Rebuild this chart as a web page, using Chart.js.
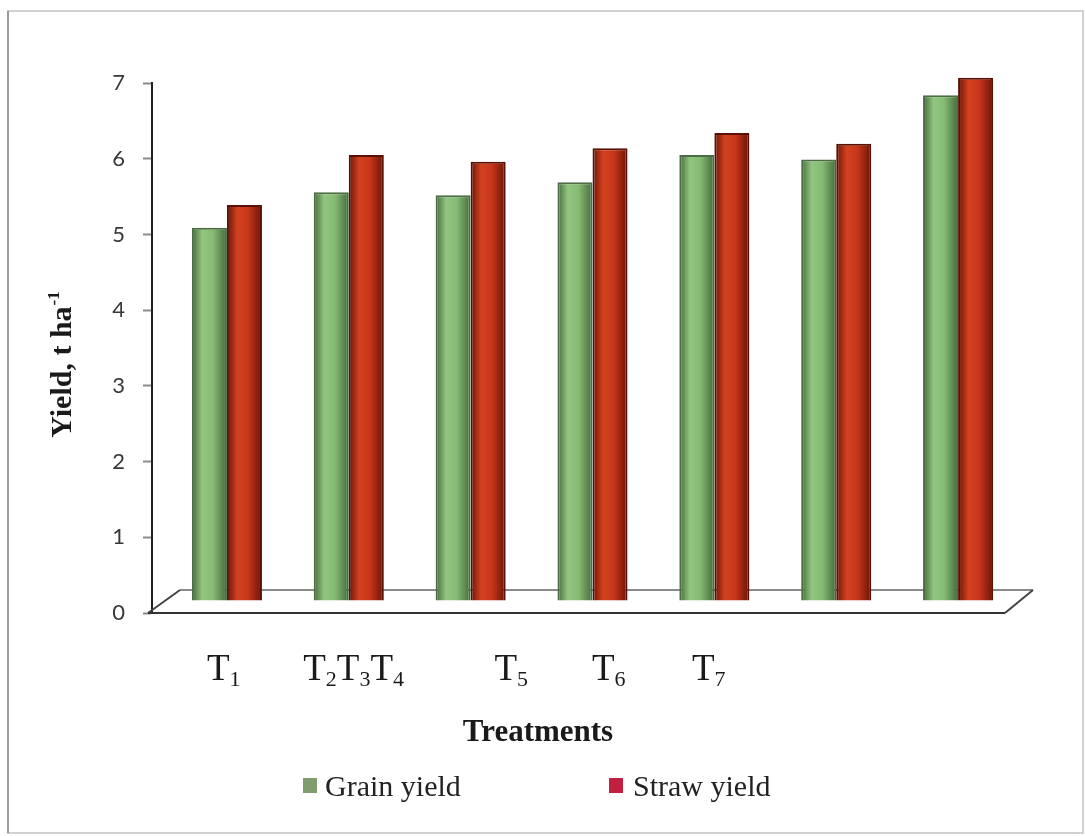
<!DOCTYPE html>
<html>
<head>
<meta charset="utf-8">
<script src="https://cdn.jsdelivr.net/npm/chart.js@4/dist/chart.umd.min.js"></script>
<style>
  html, body { margin: 0; padding: 0; background: #fff; }
  #wrap { width: 1085px; height: 836px; }
</style>
</head>
<body>
<div id="wrap"><canvas id="yieldChart" width="1085" height="836"></canvas></div>
<script>
/* DATA */
const categories = ["T1", "T2", "T3", "T4", "T5", "T6", "T7"];
const grainYield = [4.93, 5.4, 5.36, 5.53, 5.89, 5.83, 6.68];
const strawYield = [5.23, 5.89, 5.8, 5.98, 6.18, 6.04, 6.91];
const yMax = 7;
// treatment labels as printed under the axis (they sit loosely, not on each group)
const axisLabels = ["T1", "T2T3T4", "T5", "T6", "T7"];
const axisLabelPos = [-0.05, 0.74, 2.31, 3.11, 3.93];

/* STYLE */
const SERIF = "'Liberation Serif', 'Times New Roman', serif";
const DEPTH = { dx: 28, dy: -23 }; // floor depth of the 3D look
const BAR_SHIFT = { dx: 14, dy: -12 }; // bars sit mid-depth
const CAT_PCT = 0.575;

const palette = [
  { edge: "#456a3c", mid: "#86bb74", light: "#92c680", line: "#4c6c44" },
  { edge: "#6a1406", mid: "#c8361a", light: "#d2421f", line: "#5a1004" },
];

function barFill(c) {
  const p = palette[c.datasetIndex];
  const xs = c.chart.scales && c.chart.scales.x;
  if (c.type !== "data" || !xs || !xs.width) return p.mid;
  const catW = xs.width / categories.length;
  const barW = (catW * CAT_PCT) / 2;
  const cx = xs.getPixelForValue(c.dataIndex) + (c.datasetIndex - 0.5) * barW;
  if (!isFinite(cx) || !isFinite(barW)) return p.mid;
  const g = c.chart.ctx.createLinearGradient(cx - barW / 2, 0, cx + barW / 2, 0);
  g.addColorStop(0, p.edge);
  g.addColorStop(0.3, p.light);
  g.addColorStop(0.6, p.mid);
  g.addColorStop(1, p.edge);
  return g;
}

function drawSubText(ctx, str, x, y, big, small) {
  ctx.textAlign = "left";
  ctx.textBaseline = "alphabetic";
  for (const ch of str) {
    const isDigit = /[0-9]/.test(ch);
    ctx.font = (isDigit ? small : big) + "px " + SERIF;
    ctx.fillText(ch, x, isDigit ? y + 6 : y);
    x += ctx.measureText(ch).width;
  }
}

/* PLUGIN: frame, floor, shifted bars, labels, legend */
const extras = {
  id: "extras",
  beforeDraw(chart) {
    const ctx = chart.ctx;
    ctx.save();
    ctx.fillStyle = "#fff";
    ctx.fillRect(0, 0, chart.width, chart.height);
    ctx.strokeStyle = "#d4d0d2";
    ctx.lineWidth = 2;
    ctx.strokeRect(8, 11, 1075, 822);
    ctx.strokeStyle = "#9a9a9a";
    ctx.beginPath();
    ctx.moveTo(8, 11);
    ctx.lineTo(8, 833);
    ctx.stroke();
    ctx.restore();
  },
  beforeDatasetsDraw(chart) {
    const ctx = chart.ctx;
    const a = chart.chartArea;
    const y0 = chart.scales.y.getPixelForValue(0);
    ctx.save();
    ctx.lineWidth = 2;
    // back edge of floor
    ctx.strokeStyle = "#8a8a8a";
    ctx.beginPath();
    ctx.moveTo(a.left + DEPTH.dx, y0 + DEPTH.dy);
    ctx.lineTo(a.right + DEPTH.dx, y0 + DEPTH.dy);
    ctx.stroke();
    // side edges
    ctx.strokeStyle = "#444";
    ctx.beginPath();
    ctx.moveTo(a.left - 4, y0);
    ctx.lineTo(a.left + DEPTH.dx, y0 + DEPTH.dy);
    ctx.moveTo(a.right, y0);
    ctx.lineTo(a.right + DEPTH.dx, y0 + DEPTH.dy);
    ctx.stroke();
    // front edge
    ctx.strokeStyle = "#333";
    ctx.beginPath();
    ctx.moveTo(a.left - 4, y0);
    ctx.lineTo(a.right, y0);
    ctx.stroke();
    ctx.restore();

    ctx.save();
    ctx.translate(BAR_SHIFT.dx, BAR_SHIFT.dy);
  },
  afterDatasetsDraw(chart) {
    chart.ctx.restore();
  },
  afterDraw(chart) {
    const ctx = chart.ctx;
    const xs = chart.scales.x;
    ctx.save();
    ctx.fillStyle = "#1a1a1a";

    // treatment labels
    axisLabels.forEach((t, i) => {
      const x = xs.getPixelForValue(axisLabelPos[i]) - xs.width / categories.length / 2 + 61;
      drawSubText(ctx, t, x, 680, 37, 22);
    });

    // x title
    ctx.font = "bold 31px " + SERIF;
    ctx.textAlign = "center";
    ctx.textBaseline = "alphabetic";
    ctx.fillText("Treatments", 538, 741);

    // y title, rotated, with superscript
    ctx.save();
    ctx.translate(71, 365);
    ctx.rotate(-Math.PI / 2);
    ctx.font = "bold 30px " + SERIF;
    const main = "Yield, t ha";
    const wMain = ctx.measureText(main).width;
    ctx.font = "bold 17px " + SERIF;
    const wSup = ctx.measureText("-1").width;
    const start = -(wMain + wSup) / 2;
    ctx.textAlign = "left";
    ctx.font = "bold 30px " + SERIF;
    ctx.fillText(main, start, 0);
    ctx.font = "bold 17px " + SERIF;
    ctx.fillText("-1", start + wMain + 1, -12);
    ctx.restore();

    // legend
    const items = [
      { label: "Grain yield", color: "#7f9e70", box: 303, text: 325 },
      { label: "Straw yield", color: "#c2203f", box: 609, text: 633 },
    ];
    items.forEach((it) => {
      ctx.fillStyle = it.color;
      ctx.fillRect(it.box, 778, 14, 15);
      ctx.fillStyle = "#222";
      ctx.font = "30px " + SERIF;
      ctx.textAlign = "left";
      ctx.fillText(it.label, it.text, 796);
    });
    ctx.restore();
  },
};

/* CHART */
new Chart(document.getElementById("yieldChart"), {
  type: "bar",
  data: {
    labels: categories,
    datasets: [
      {
        label: "Grain yield",
        data: grainYield,
        backgroundColor: barFill,
        borderColor: palette[0].line,
        borderWidth: 2,
        clip: false,
      },
      {
        label: "Straw yield",
        data: strawYield,
        backgroundColor: barFill,
        borderColor: palette[1].line,
        borderWidth: 2,
        clip: false,
      },
    ],
  },
  options: {
    responsive: false,
    animation: false,
    devicePixelRatio: 1,
    layout: { padding: { top: 83, bottom: 223, right: 80, left: 0 } },
    datasets: { bar: { categoryPercentage: CAT_PCT, barPercentage: 1 } },
    plugins: { legend: { display: false }, tooltip: { enabled: false } },
    scales: {
      x: { display: false },
      y: {
        min: 0,
        max: yMax,
        afterFit: (s) => { s.width = 152; },
        ticks: {
          stepSize: 1,
          padding: 18,
          color: "#383838",
          font: { family: "Lato, 'Open Sans', sans-serif", size: 22 },
        },
        grid: {
          drawOnChartArea: false,
          drawTicks: true,
          tickLength: 9,
          tickWidth: 2,
          color: "#8a8a8a",
        },
        border: { display: true, color: "#222", width: 2 },
      },
    },
  },
  plugins: [extras],
});
</script>
</body>
</html>
